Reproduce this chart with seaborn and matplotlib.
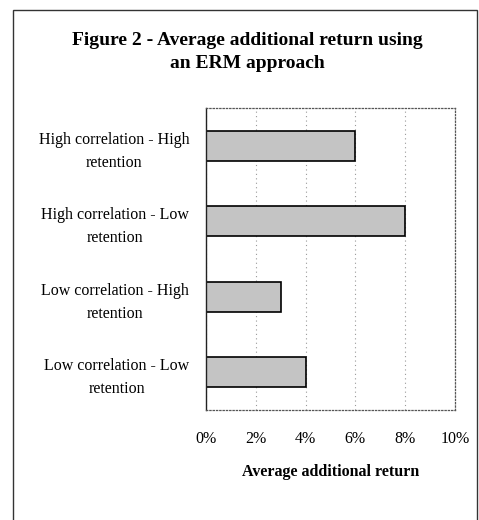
import matplotlib
matplotlib.use("Agg")
import matplotlib.pyplot as plt
import seaborn as sns
import pandas as pd
from matplotlib.patches import Rectangle
from matplotlib.ticker import FuncFormatter

# data
categories = ["High correlation - High\nretention",
              "High correlation - Low\nretention",
              "Low correlation - High\nretention",
              "Low correlation - Low\nretention"]
avg_return = [6, 8, 3, 4]  # percent
xticks = [0, 2, 4, 6, 8, 10]

df = pd.DataFrame({"scenario": categories, "ret": avg_return})

sns.set_style("white")
plt.rcParams['font.family'] = ['Liberation Serif', 'DejaVu Serif']

fig = plt.figure(figsize=(4.79, 5.2), dpi=100)
ax = fig.add_axes([0.430, 0.2115, 0.520, 0.581])

sns.barplot(data=df, y="scenario", x="ret", orient="h", color="#c4c4c4",
            edgecolor="black", linewidth=1.2, width=0.4, saturation=1, ax=ax)

ax.set_xlim(0, 10)
ax.set_xticks(xticks)
ax.xaxis.set_major_formatter(FuncFormatter(lambda v, p: '{:.0f}%'.format(v)))
ax.tick_params(axis='x', length=0, pad=15, labelsize=11.5, labelcolor='black')
ax.tick_params(axis='y', length=0, pad=12, labelsize=11.5, labelcolor='black')
for lab in ax.get_yticklabels():
    lab.set_multialignment('center')
    lab.set_linespacing(1.6)
ax.set_ylabel('')
ax.set_xlabel('Average additional return', fontsize=11.5, fontweight='bold',
              labelpad=12, color='black')

ax.xaxis.grid(True, linestyle=(0, (1, 3)), color='#999999', linewidth=0.8)
ax.set_axisbelow(True)
for side in ['top', 'right', 'bottom']:
    ax.spines[side].set_linestyle(':')
    ax.spines[side].set_color('#555555')
    ax.spines[side].set_linewidth(0.9)
ax.spines['left'].set_color('#222222')
ax.spines['left'].set_linewidth(1.0)

fig.text(0.516, 0.90, 'Figure 2 - Average additional return using\nan ERM approach',
         ha='center', va='center', fontsize=14, fontweight='bold', linespacing=1.45,
         color='black')

# outer frame of the figure box
fig.patches.append(Rectangle((13 / 479, -0.02), 464 / 479, 1 - 10 / 520 + 0.02,
                             transform=fig.transFigure, fill=False,
                             edgecolor='#333333', linewidth=1.0))

fig.savefig('out.png', dpi=100)
